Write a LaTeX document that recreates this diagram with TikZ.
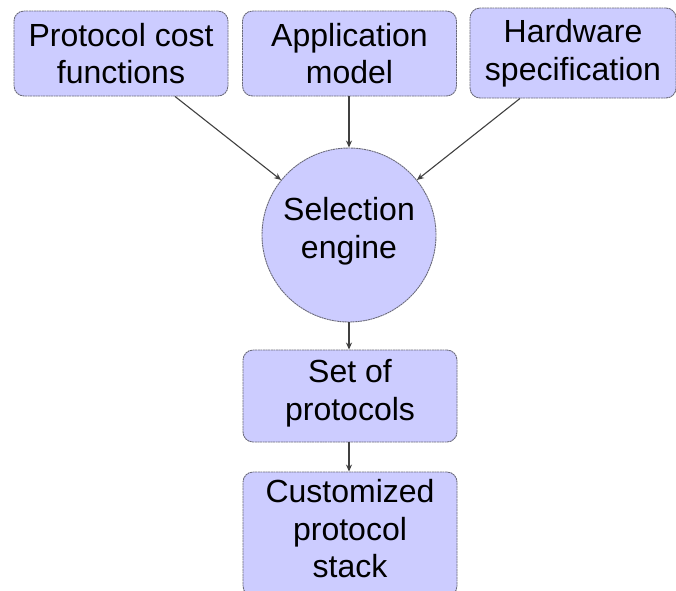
\documentclass[tikz,border=0pt]{standalone}
\usepackage{fontspec}
\setmainfont{Liberation Sans}
\usetikzlibrary{arrows.meta}
\definecolor{boxfill}{HTML}{CCCCFF}
\definecolor{boxline}{HTML}{6A6A7A}
\definecolor{arrowline}{HTML}{404040}
\begin{document}
\begin{tikzpicture}[x=1pt,y=-1pt,
  lbl/.style={font=\fontsize{32}{37.5}\selectfont, align=center, text=black},
  stepbox/.style={lbl, draw=boxline, fill=boxfill, line width=0.9pt,
    dash pattern=on 2pt off 0.6pt, rounded corners=10pt,
    minimum width=#1, inner sep=0pt},
  engine/.style={lbl, circle, draw=boxline, fill=boxfill, line width=0.9pt,
    dash pattern=on 2pt off 0.6pt, minimum size=174pt, inner sep=0pt},
  link/.style={draw=arrowline, line width=1.1pt,
    -{Stealth[length=7pt,width=6pt]}}]
\useasboundingbox (0,0) rectangle (676,590);
\clip (0,0) rectangle (676,590);

% inputs
\node[stepbox=214pt, minimum height=85pt] (cost) at (121,53.5) {Protocol cost\\functions};
\node[stepbox=214pt, minimum height=85pt] (app) at (349.5,53.5) {Application\\model};
\node[stepbox=206pt, minimum height=90pt] (hw) at (573,53) {Hardware\\specification};

% selection engine
\node[engine] (sel) at (349,235) {};
\node[lbl] at (349,231) {Selection\\engine};

% outputs
\node[stepbox=214pt, minimum height=92pt] (set) at (350,396) {};
\node[lbl] at (350,393) {Set of\\protocols};
\node[stepbox=214pt, minimum height=124pt] (stack) at (350,534) {};
\node[lbl] at (350,529) {Customized\\protocol\\stack};

% connectors
\draw[link] ([xshift=54pt]cost.south) -- (sel.141);
\draw[link] (app.south -| sel.north) -- (sel.north);
\draw[link] ([xshift=-53pt]hw.south) -- (sel.39);
\draw[link] (sel.south) -- (sel.south |- set.north);
\draw[link] (set.south -| sel.south) -- (sel.south |- stack.north);
\end{tikzpicture}
\end{document}
